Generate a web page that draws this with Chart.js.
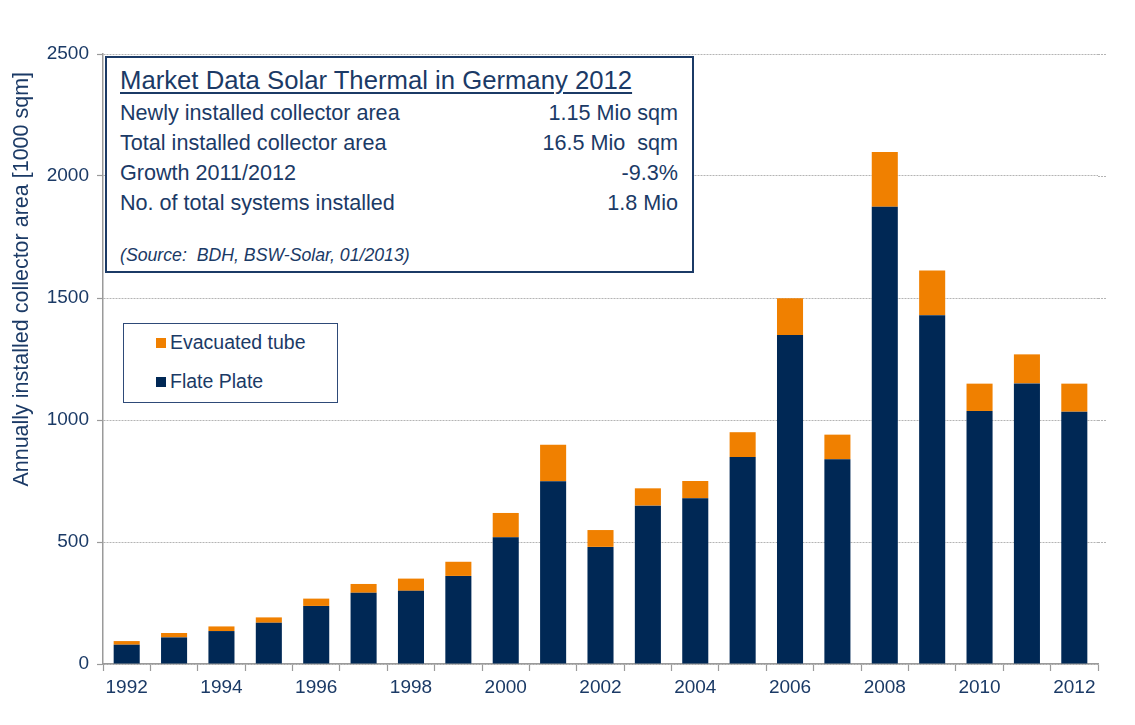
<!DOCTYPE html>
<html>
<head>
<meta charset="utf-8">
<script src="https://cdn.jsdelivr.net/npm/chart.js@4"></script>
<style>
  html, body { margin: 0; padding: 0; background: #ffffff; }
  #wrap { position: relative; width: 1135px; height: 725px; font-family: "Liberation Sans", Arial, sans-serif; color: #1B3A66; }
  #c { position: absolute; left: 0; top: 0; }
  .box { position: absolute; background: #ffffff; box-sizing: border-box; }
  #info { left: 105px; top: 56px; width: 589px; height: 217px; border: 2px solid #1B3A66; }
  .t { position: absolute; white-space: pre; line-height: 1; }
  #legend { left: 123px; top: 323px; width: 215px; height: 80px; border: 1.5px solid #2E4A78; }
  .sw { position: absolute; width: 10px; height: 10px; }
</style>
</head>
<body>
<div id="wrap">
  <canvas id="c" width="1135" height="725"></canvas>
  <div id="info" class="box"></div>
  <div id="legend" class="box"></div>
</div>
<script>
const years = ["1992","1993","1994","1995","1996","1997","1998","1999","2000","2001","2002","2003","2004","2005","2006","2007","2008","2009","2010","2011","2012"];
const flatPlate = [79,109,135,169,238,292,300,361,519,749,480,649,679,848,1348,839,1874,1429,1037,1150,1034];
const evacuatedTube = [15,18,19,22,30,36,50,58,100,150,69,71,71,102,151,101,224,184,112,119,115];
const yTicks = [0,500,1000,1500,2000,2500];
const seriesNames = ["Evacuated tube","Flate Plate"];
const infoTitle = "Market Data Solar Thermal in Germany 2012";
const infoLabels = ["Newly installed collector area","Total installed collector area","Growth 2011/2012","No. of total systems installed"];
const infoValues = ["1.15 Mio sqm","16.5 Mio  sqm","-9.3%","1.8 Mio"];
const infoSource = "(Source:  BDH, BSW-Solar, 01/2013)";
const yTitle = "Annually installed collector area [1000 sqm]";

const NAVY = "#002855";
const ORANGE = "#F08000";
const TEXT = "#1B3A66";

// Info box text
const info = document.getElementById("info");
function addText(parent, txt, left, top, size, extra) {
  const s = document.createElement("div");
  s.className = "t";
  s.textContent = txt;
  s.style.left = left + "px";
  s.style.top = top + "px";
  s.style.fontSize = size + "px";
  if (extra) Object.assign(s.style, extra);
  parent.appendChild(s);
  return s;
}
addText(info, infoTitle, 13, 10, 25.7, { textDecoration: "underline", textUnderlineOffset: "3px", textDecorationThickness: "1.5px" });
infoLabels.forEach((l, i) => {
  addText(info, l, 13, 44 + i * 30, 21.6);
  addText(info, infoValues[i], 0, 44 + i * 30, 21.6, { right: "14px", left: "auto", textAlign: "right" });
});
addText(info, infoSource, 13, 189, 17.7, { fontStyle: "italic" });

// Legend
const legend = document.getElementById("legend");
const legendColors = [ORANGE, NAVY];
seriesNames.forEach((n, i) => {
  const sw = document.createElement("div");
  sw.className = "sw";
  sw.style.background = legendColors[i];
  sw.style.left = "32px";
  sw.style.top = (14 + i * 39) + "px";
  legend.appendChild(sw);
  addText(legend, n, 46, 9 + i * 39, 19.5);
});

// extend horizontal grid lines slightly past the last category, as in the reference
const gridExtend = {
  id: "gridExtend",
  beforeDatasetsDraw(chart) {
    const y = chart.scales.y, a = chart.chartArea, ctx = chart.ctx;
    ctx.save();
    ctx.strokeStyle = "#b4b4b4";
    ctx.lineWidth = 1;
    ctx.setLineDash([2, 1]);
    y.ticks.forEach(t => {
      if (t.value === 0) return;
      const py = Math.round(y.getPixelForValue(t.value)) + 0.5;
      ctx.beginPath();
      ctx.moveTo(a.right, py);
      ctx.lineTo(a.right + 8, py);
      ctx.stroke();
    });
    ctx.restore();
  }
};

const chart = new Chart(document.getElementById("c"), {
  type: "bar",
  data: {
    labels: years,
    datasets: [
      { label: seriesNames[1], data: flatPlate, backgroundColor: NAVY, stack: "s", barPercentage: 0.55, categoryPercentage: 1.0 },
      { label: seriesNames[0], data: evacuatedTube, backgroundColor: ORANGE, stack: "s", barPercentage: 0.55, categoryPercentage: 1.0 }
    ]
  },
  plugins: [gridExtend],
  options: {
    responsive: false,
    animation: false,
    events: [],
    layout: { padding: { top: 54, right: 37, left: 0, bottom: 0 } },
    plugins: { legend: { display: false }, tooltip: { enabled: false } },
    scales: {
      x: {
        stacked: true,
        offset: true,
        grid: { display: true, drawOnChartArea: false, offset: true, tickLength: 7, tickColor: "#9a9a9a", tickWidth: 1.2 },
        border: { display: true, color: "#9a9a9a", width: 1.5 },
        ticks: {
          autoSkip: false, maxRotation: 0, color: TEXT, padding: 5,
          font: { family: "Liberation Sans", size: 19 },
          callback: function (v, i) { return i % 2 === 0 ? years[i] : ""; }
        },
        afterFit: function (s) { s.height = 725 - 664; }
      },
      y: {
        stacked: true,
        min: 0, max: 2500,
        afterBuildTicks: function (s) { s.ticks = yTicks.map(v => ({ value: v })); },
        grid: { color: "#b4b4b4", lineWidth: 1, tickLength: 6, tickColor: "#9a9a9a", tickWidth: 1.2 },
        border: { display: true, color: "#9a9a9a", width: 1.5, dash: [2, 1] },
        ticks: { color: TEXT, padding: 8, font: { family: "Liberation Sans", size: 19 },
          callback: function (v) { return String(v); } },
        title: {
          display: true, text: yTitle + "\u00a0\u00a0\u00a0", color: TEXT, align: "end",
          font: { family: "Liberation Sans", size: 21.5, weight: "normal" },
          padding: { top: 9, bottom: 0 }
        },
        afterFit: function (s) { s.width = 103; }
      }
    }
  }
});
</script>
</body>
</html>
